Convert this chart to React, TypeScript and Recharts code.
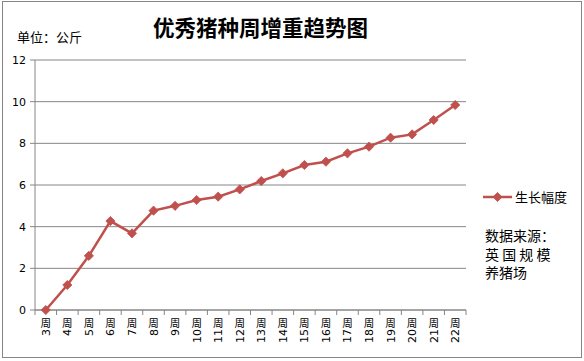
import { CartesianGrid, Line, LineChart, XAxis, YAxis } from 'recharts'

const weeks = ['3', '4', '5', '6', '7', '8', '9', '10', '11', '12', '13', '14', '15', '16', '17', '18', '19', '20', '21', '22']
const growth = [0, 1.2, 2.6, 4.27, 3.68, 4.77, 5.0, 5.28, 5.44, 5.79, 6.19, 6.56, 6.96, 7.12, 7.52, 7.84, 8.27, 8.43, 9.12, 9.84]
const yTicks = [0, 2, 4, 6, 8, 10, 12]
const seriesName = '生长幅度'
const title = '优秀猪种周增重趋势图'
const unitLabel = '单位：公斤'
const sourceLines = ['数据来源：', '英 国 规 模', '养猪场']

const data = weeks.map((w, i) => ({ week: w + '周', growth: growth[i] }))

const RED = '#C0504D'
const GRAY = '#868686'
const CJK = '"Noto Sans CJK SC", sans-serif'
const HALF = 10.78

function Diamond({ cx, cy }: any) {
  if (cx == null || cy == null) return null
  const r = 4.6
  return (
    <path
      d={`M${cx},${cy - r}L${cx + r},${cy}L${cx},${cy + r}L${cx - r},${cy}Z`}
      fill={RED}
      stroke={RED}
      strokeWidth={0.8}
    />
  )
}

function WeekTick({ x, y, payload, index }: any) {
  const num = String(payload.value).replace('周', '')
  return (
    <g>
      {index === 0 && <line x1={x - HALF} y1={y} x2={x - HALF} y2={y + 5} stroke={GRAY} />}
      <line x1={x + HALF} y1={y} x2={x + HALF} y2={y + 5} stroke={GRAY} />
      <text x={x} y={y + 17} textAnchor="middle" fontSize={10.5} fontFamily={CJK} fill="#000">
        周
      </text>
      <text
        x={x + 4}
        y={y + 19}
        transform={`rotate(-90 ${x + 4} ${y + 19})`}
        textAnchor="end"
        fontSize={11}
        fontFamily="'DejaVu Sans', sans-serif"
        fill="#000"
      >
        {num}
      </text>
    </g>
  )
}

export default function App() {
  return (
    <div style={{ position: 'absolute', left: 0, top: 0, width: 584, height: 361, background: '#fff' }}>
      <div
        style={{
          position: 'absolute',
          left: 2,
          top: 1,
          width: 578,
          height: 355,
          border: `1px solid ${GRAY}`,
        }}
      />
      <div
        style={{
          position: 'absolute',
          left: 153,
          top: 13,
          fontFamily: CJK,
          fontSize: 21.5,
          fontWeight: 700,
          lineHeight: '28px',
          color: '#000',
          whiteSpace: 'nowrap',
        }}
      >
        {title}
      </div>
      <div
        style={{
          position: 'absolute',
          left: 17,
          top: 28,
          fontFamily: CJK,
          fontSize: 13,
          lineHeight: '18px',
          color: '#000',
        }}
      >
        {unitLabel}
      </div>
      <div style={{ position: 'absolute', left: 482, top: 187 }}>
        <svg width={100} height={20} style={{ display: 'block' }}>
          <line x1={1} y1={10} x2={30} y2={10} stroke={RED} strokeWidth={2.5} />
          <Diamond cx={15.5} cy={10} />
          <text x={33} y={14.5} fontSize={13} fontFamily={CJK} fill="#000">
            {seriesName}
          </text>
        </svg>
      </div>
      <div
        style={{
          position: 'absolute',
          left: 485,
          top: 226,
          fontFamily: CJK,
          fontSize: 14,
          lineHeight: '18.5px',
          color: '#000',
        }}
      >
        {sourceLines.map((l) => (
          <div key={l}>{l}</div>
        ))}
      </div>
      <LineChart
        width={584}
        height={361}
        data={data}
        margin={{ top: 60, right: 118, left: 0, bottom: 0 }}
        style={{ position: 'absolute', left: 0, top: 0 }}
      >
        <CartesianGrid horizontal vertical={false} stroke={GRAY} strokeWidth={1} />
        <XAxis
          dataKey="week"
          interval={0}
          height={51}
          padding={{ left: HALF, right: HALF }}
          axisLine={{ stroke: GRAY }}
          tickLine={false}
          tickSize={0}
          tickMargin={0}
          tick={<WeekTick />}
        />
        <YAxis
          width={35}
          domain={[0, 12]}
          ticks={yTicks}
          axisLine={{ stroke: GRAY }}
          tickLine={{ stroke: GRAY }}
          tickSize={5}
          tickMargin={4}
          tick={{ fontSize: 11, fill: '#000', fontFamily: "'DejaVu Sans', sans-serif" }}
        />
        <Line
          dataKey="growth"
          name={seriesName}
          type="linear"
          stroke={RED}
          strokeWidth={2.5}
          dot={<Diamond />}
          activeDot={false}
          isAnimationActive={false}
        />
      </LineChart>
    </div>
  )
}
